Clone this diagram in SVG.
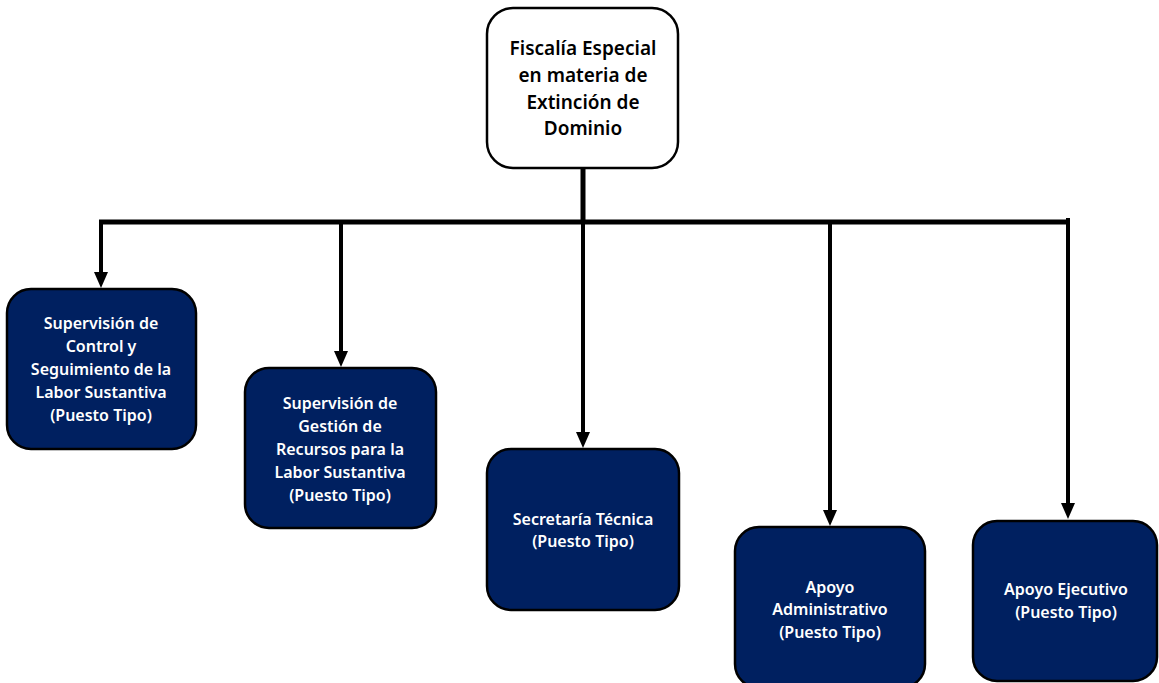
<svg xmlns="http://www.w3.org/2000/svg" width="1159" height="683" viewBox="0 0 1159 683">
<defs>
<style>
.box{fill:#002060;stroke:#000;stroke-width:2.5}
.top{fill:#fff;stroke:#000;stroke-width:2.5}
.t{font-family:"Noto Sans","DejaVu Sans",sans-serif;font-weight:600;font-size:16px;fill:#fff;text-anchor:middle}
.tt{font-family:"Noto Sans","DejaVu Sans",sans-serif;font-weight:600;font-size:19px;fill:#000;text-anchor:middle}
.ln{stroke:#000;stroke-width:5;fill:none}
.st{stroke:#000;stroke-width:4}
</style>
</defs>
<g id="connectors">
<line class="ln" x1="583" y1="168" x2="583" y2="222"/>
<line class="ln" x1="99" y1="222" x2="1070" y2="222"/>
<path class="st" d="M101,220 V274"/>
<path d="M94,272 L108,272 L101,288 Z"/>
<path class="st" d="M341,220 V353"/>
<path d="M334,351 L348,351 L341,367 Z"/>
<path class="st" d="M583,220 V434"/>
<path d="M576,432 L590,432 L583,448 Z"/>
<path class="st" d="M830,220 V512"/>
<path d="M823,510 L837,510 L830,526 Z"/>
<path class="st" d="M1068,218 V505"/>
<path d="M1061,503 L1075,503 L1068,519 Z"/>
</g>
<g id="n0">
<rect class="top" x="487" y="8" width="191" height="160" rx="26"/>
<text class="tt"><tspan x="583" y="55">Fiscalía Especial</tspan><tspan x="583" y="82">en materia de</tspan><tspan x="583" y="109">Extinción de</tspan><tspan x="583" y="135">Dominio</tspan></text>
</g>
<g id="n1">
<rect class="box" x="7" y="289" width="189" height="160" rx="24"/>
<text class="t"><tspan x="101" y="329">Supervisión de</tspan><tspan x="101" y="352">Control y</tspan><tspan x="101" y="375">Seguimiento de la</tspan><tspan x="101" y="398">Labor Sustantiva</tspan><tspan x="101" y="421">(Puesto Tipo)</tspan></text>
</g>
<g id="n2">
<rect class="box" x="245" y="368" width="191" height="160" rx="24"/>
<text class="t"><tspan x="340" y="409">Supervisión de</tspan><tspan x="340" y="432">Gestión de</tspan><tspan x="340" y="455">Recursos para la</tspan><tspan x="340" y="478">Labor Sustantiva</tspan><tspan x="340" y="501">(Puesto Tipo)</tspan></text>
</g>
<g id="n3">
<rect class="box" x="487" y="449" width="192" height="161" rx="24"/>
<text class="t"><tspan x="583" y="525">Secretaría Técnica</tspan><tspan x="583" y="547">(Puesto Tipo)</tspan></text>
</g>
<g id="n4">
<rect class="box" x="735" y="527" width="190" height="161" rx="24"/>
<text class="t"><tspan x="830" y="593">Apoyo</tspan><tspan x="830" y="615">Administrativo</tspan><tspan x="830" y="638">(Puesto Tipo)</tspan></text>
</g>
<g id="n5">
<rect class="box" x="973" y="521" width="184" height="160" rx="24"/>
<text class="t"><tspan x="1066" y="595">Apoyo Ejecutivo</tspan><tspan x="1066" y="618">(Puesto Tipo)</tspan></text>
</g>
</svg>
